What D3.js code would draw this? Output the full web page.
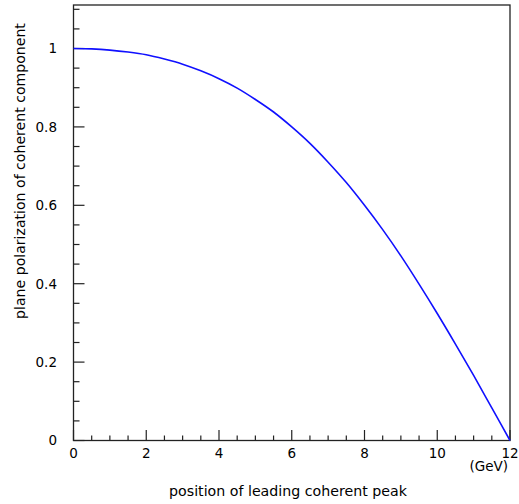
<!DOCTYPE html>
<html>
<head>
<meta charset="utf-8">
<script src="https://cdn.jsdelivr.net/npm/d3@7"></script>
<style>
  html, body { margin: 0; padding: 0; background: #fff; }
  svg text { font-family: "DejaVu Sans", "Liberation Sans", Arial, sans-serif; fill: #000; }
</style>
</head>
<body>
<svg id="chart" width="519" height="504"></svg>
<script>
// Data: position of leading coherent peak (GeV) vs polarization
const positionGeV = [0, 0.5, 1, 1.5, 2, 2.5, 3, 3.5, 4, 4.5, 5, 5.5, 6, 6.5, 7, 7.5, 8, 8.5, 9, 9.5, 10, 10.5, 11, 11.5, 12];
const polarization = [1.000, 0.999, 0.996, 0.991, 0.984, 0.973, 0.960, 0.943, 0.923, 0.899, 0.870, 0.838, 0.800, 0.758, 0.710, 0.658, 0.600, 0.538, 0.471, 0.399, 0.324, 0.246, 0.166, 0.083, 0.000];
const xTickValues = [0, 2, 4, 6, 8, 10, 12];
const yTickValues = [0, 0.2, 0.4, 0.6, 0.8, 1];
const xTitle = "position of leading coherent peak";
const xUnit = "(GeV)";
const yTitle = "plane polarization of coherent component";

const svg = d3.select("#chart");
const mLeft = 73.5, mRight = 510, mTop = 5, mBottom = 440.5;

const x = d3.scaleLinear().domain([0, 12]).range([mLeft, mRight]);
const y = d3.scaleLinear().domain([0, 1.111]).range([mBottom, mTop]);

// minor ticks
const xMinor = d3.range(0, 12.001, 0.5).filter(v => !xTickValues.includes(v));
const yMinor = d3.range(0, 1.1001, 0.05).map(v => +v.toFixed(2)).filter(v => !yTickValues.some(t => Math.abs(t - v) < 1e-6));

const g = svg.append("g");

// frame
g.append("rect")
  .attr("x", mLeft).attr("y", mTop)
  .attr("width", mRight - mLeft).attr("height", mBottom - mTop)
  .attr("fill", "none").attr("stroke", "#222").attr("stroke-width", 1.3);

// x ticks (inward)
g.selectAll(".xmaj").data(xTickValues).join("line")
  .attr("x1", d => x(d)).attr("x2", d => x(d))
  .attr("y1", mBottom).attr("y2", mBottom - 10.5)
  .attr("stroke", "#222").attr("stroke-width", 1.2);
g.selectAll(".xmin").data(xMinor).join("line")
  .attr("x1", d => x(d)).attr("x2", d => x(d))
  .attr("y1", mBottom).attr("y2", mBottom - 5)
  .attr("stroke", "#222").attr("stroke-width", 1.2);

// y ticks (inward)
g.selectAll(".ymaj").data(yTickValues).join("line")
  .attr("x1", mLeft).attr("x2", mLeft + 11)
  .attr("y1", d => y(d)).attr("y2", d => y(d))
  .attr("stroke", "#222").attr("stroke-width", 1.2);
g.selectAll(".ymin").data(yMinor).join("line")
  .attr("x1", mLeft).attr("x2", mLeft + 6)
  .attr("y1", d => y(d)).attr("y2", d => y(d))
  .attr("stroke", "#222").attr("stroke-width", 1.2);

// tick labels
g.selectAll(".xl").data(xTickValues).join("text")
  .attr("x", d => x(d)).attr("y", 458)
  .attr("text-anchor", "middle")
  .attr("font-size", 13.5)
  .text(d => d3.format("d")(d));
g.selectAll(".yl").data(yTickValues).join("text")
  .attr("x", 57).attr("y", d => y(d))
  .attr("dy", "0.36em")
  .attr("text-anchor", "end")
  .attr("font-size", 13.5)
  .text(d => d === 0 ? "0" : d === 1 ? "1" : d3.format(".1f")(d));

// titles
g.append("text")
  .attr("x", 508).attr("y", 471)
  .attr("text-anchor", "end").attr("font-size", 13.5)
  .text(xUnit);
g.append("text")
  .attr("x", 288).attr("y", 496)
  .attr("text-anchor", "middle").attr("font-size", 14.2)
  .text(xTitle);
g.append("text")
  .attr("transform", "translate(25,171) rotate(-90)")
  .attr("text-anchor", "middle").attr("font-size", 14.1)
  .text(yTitle);

// curve
const line = d3.line()
  .x((d, i) => x(positionGeV[i]))
  .y(d => y(d))
  .curve(d3.curveMonotoneX);
g.append("path")
  .datum(polarization)
  .attr("d", line)
  .attr("fill", "none")
  .attr("stroke", "#1010ff")
  .attr("stroke-width", 1.6);
</script>
</body>
</html>
